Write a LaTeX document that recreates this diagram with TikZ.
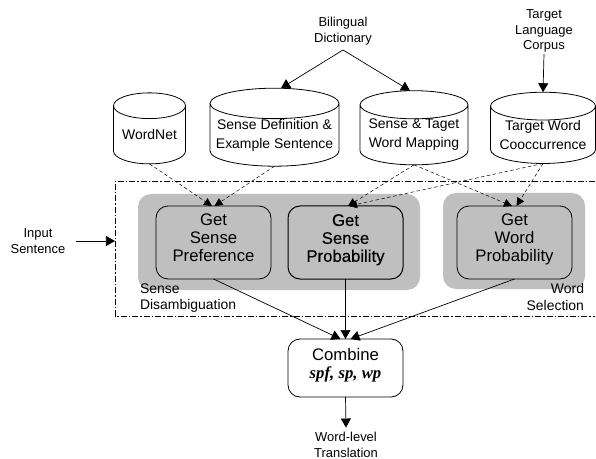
\documentclass[tikz,border=0pt]{standalone}
\usepackage{fontspec}
\setmainfont{Liberation Sans}
\newfontfamily\emphserif{Liberation Serif}
\newfontfamily\heavyface[FakeBold=0.4]{Liberation Sans}
\usetikzlibrary{arrows.meta,shapes.geometric}
\tikzset{
  x=1bp,y=-1bp,
  every node/.style={inner sep=0pt,outer sep=0pt,align=center},
  store/.style 2 args={cylinder,shape border rotate=90,draw=black,line width=0.8bp,
    minimum width=#1bp,minimum height=71bp,aspect=#2,font=\fontsize{14}{19}\selectfont},
  proc/.style={draw=black,line width=0.8bp,rounded corners=12bp,minimum width=115bp,minimum height=73bp,
    text depth=9bp,font=\fontsize{16.8}{18}\selectfont},
  panel/.style={draw=none,fill=black!25,rounded corners=13bp},
  small/.style={font=\fontsize{13}{16}\selectfont},
  note/.style={font=\fontsize{14}{16.5}\selectfont},
  flow/.style={-{Triangle[length=9bp,width=10bp]},line width=0.7bp},
  feed/.style={-{Triangle[length=8bp,width=8bp]},line width=0.5bp,dash pattern=on 3.5bp off 2.5bp},
  frame/.style={draw=black,line width=0.7bp,dash pattern=on 6bp off 2bp on 1.5bp off 2bp},
}
\begin{document}
\begin{tikzpicture}
\useasboundingbox (0,0) rectangle (596,459);
\node[panel,minimum width=282bp,minimum height=96bp] (pa) at (279,242) {};
\node[panel,minimum width=142bp,minimum height=96bp] (pb) at (514,241) {};
\node[minimum width=480bp,minimum height=135bp] (fr) at (355,248.5) {};
\draw[frame] (fr.north east) -- (fr.north west) -- (fr.south west) -- (fr.south east);
\node[store={72}{0.47}] (wn) at (149.5,135) {WordNet};
\node[store={129}{0.26}] (sd) at (274.5,135) {Sense Definition \&\\Example Sentence};
\node[store={108}{0.31}] (sm) at (414,135) {Sense \& Taget\\Word Mapping};
\node[store={105}{0.32}] (tw) at (543,135) {Target Word\\Cooccurrence};
\node[proc] (gp) at (213.5,242.5) {Get\\Sense\\Preference};
\node[proc,line width=1bp] (gs) at (345.5,242.5) {\heavyface Get\\\heavyface Sense\\\heavyface Probability};
\node[proc] (gw) at (514.5,242.5) {Get\\Word\\Probability};
\node[proc,minimum height=58bp] (cb) at (345.5,368) {Combine\\{\emphserif\bfseries\itshape spf, sp, wp}};
\node[small] (bd) at (343,31) {Bilingual\\Dictionary};
\node[small,font=\fontsize{13}{15.2}\selectfont] (tl) at (544,31) {Target\\Language\\Corpus};
\node[small] (is) at (38,241) {Input\\Sentence};
\node[small,font=\fontsize{13}{15.5}\selectfont] (wt) at (346,445) {Word-level\\Translation};
\node[note,anchor=north west,align=left] (sl) at (140,283.5) {Sense\\Disambiguation};
\node[note,anchor=north east,align=right] (wl) at (584,283.5) {Word\\Selection};
\coordinate (bt) at (343,50);
\coordinate (is2) at (76,241);
\draw[flow] (bt) -- ([xshift=6.5bp]sd.north);
\draw[flow] (bt) -- ([xshift=-4bp]sm.north);
\draw[flow] ([yshift=-2bp]tl.south) -- (tw.north);
\draw[flow] (is2) -- (fr.west |- is2);
\draw[flow] (cb.south) -- ([yshift=5bp]wt.north);
\draw[feed] (wn.south) -- ([xshift=-1.5bp]gp.north);
\draw[feed] (sd.south) -- ([xshift=1bp]gp.north);
\draw[feed] (sm.south) -- ([xshift=2.5bp]gs.north);
\draw[feed] (tw.south) -- ([xshift=3.5bp]gs.north);
\draw[feed] (sm.south) -- ([xshift=-2.5bp]gw.north);
\draw[feed] (tw.south) -- ([xshift=2bp]gw.north);
\draw[flow] (gp.south) -- ([xshift=-5bp]cb.north);
\draw[flow] (gs.south) -- (cb.north);
\draw[flow] (gw.south) -- ([xshift=5bp]cb.north);
\end{tikzpicture}
\end{document}
